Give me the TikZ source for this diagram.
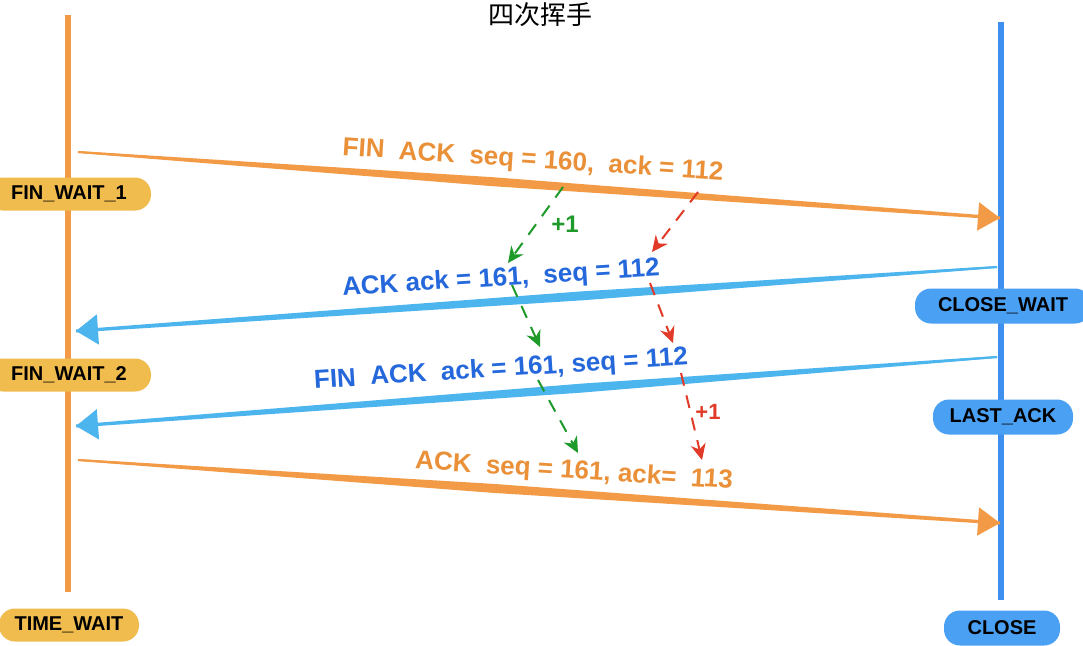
\documentclass[tikz,border=0pt]{standalone}
\usepackage{fontspec}
\setmainfont{Liberation Sans}
\newfontfamily\cjk{Noto Sans CJK SC}
\usetikzlibrary{arrows.meta,calc}
\definecolor{oline}{HTML}{F29A45}
\definecolor{otext}{HTML}{EA9038}
\definecolor{bline}{HTML}{3F8FEF}
\definecolor{lblue}{HTML}{4DB5EE}
\definecolor{btext}{HTML}{2468DC}
\definecolor{ypill}{HTML}{F0BC4E}
\definecolor{bpill}{HTML}{4AA0F3}
\definecolor{gdash}{HTML}{1E9A2A}
\definecolor{rdash}{HTML}{E23A28}
\newcommand\brushstroke[4]{%
  \fill[#4] ($(#1)+(0,1)$) -- ($(#1)!.45!(#2)+(0,#3)$) -- ($(#2)+(0,1.5)$) --
    ($(#2)+(0,-1.5)$) -- ($(#1)!.45!(#2)+(0,-#3)$) -- ($(#1)+(0,-1)$) -- cycle;}
\begin{document}
\begin{tikzpicture}[x=1pt,y=-1pt,
  ypillst/.style={rounded corners=16pt, fill=ypill, minimum height=33pt, inner sep=0pt,
     font=\fontsize{20}{22}\selectfont\bfseries, text=black},
  bpillst/.style={rounded corners=16pt, fill=bpill, minimum height=35pt, inner sep=0pt,
     font=\fontsize{20}{22}\selectfont\bfseries, text=black},
  msgo/.style={text=otext, font=\fontsize{26}{30}\selectfont\bfseries, inner sep=0pt},
  msgb/.style={text=btext, font=\fontsize{26}{30}\selectfont\bfseries, inner sep=0pt},
  oarrow/.style={draw=oline, line width=2pt, -{Triangle[length=22pt,width=28pt,fill=oline]}},
  barrow/.style={draw=lblue, line width=2pt, -{Triangle[length=22pt,width=30pt,fill=lblue]}},
  gd/.style={draw=gdash, line width=2pt, dash pattern=on 13pt off 10pt, -{Stealth[length=16pt,width=15pt]}},
  rd/.style={draw=rdash, line width=2pt, dash pattern=on 13pt off 10pt, -{Stealth[length=16pt,width=15pt]}},
  plusone/.style={font=\fontsize{24}{26}\selectfont\bfseries, inner sep=0pt}]
\useasboundingbox (0,0) rectangle (1083,645);
\fill[white] (0,0) rectangle (1083,645);
% title
\node[font=\cjk\fontsize{26}{30}\selectfont, inner sep=0pt] (title) at (540,15) {四次挥手};
% lifelines
\coordinate (ltop) at (68,15);
\coordinate (lbot) at (68,592);
\coordinate (rtop) at (1001,22);
\coordinate (rbot) at (1001,600);
\draw[oline, line width=6pt] (ltop) -- (lbot);
\draw[bline, line width=6pt] (rtop) -- (rbot);
% message endpoints
\coordinate (m1s) at (78,152);  \coordinate (m1e) at (1000,218);
\coordinate (m2s) at (997,267); \coordinate (m2e) at (76,331);
\coordinate (m3s) at (997,357); \coordinate (m3e) at (76,426);
\coordinate (m4s) at (78,460);  \coordinate (m4e) at (1000,523);
\brushstroke{m1s}{m1e}{4.5}{oline}
\brushstroke{m2s}{m2e}{4.5}{lblue}
\brushstroke{m3s}{m3e}{4.5}{lblue}
\brushstroke{m4s}{m4e}{4.5}{oline}
\draw[oarrow] (m1s) -- (m1e);
\draw[barrow] (m2s) -- (m2e);
\draw[barrow] (m3s) -- (m3e);
\draw[oarrow] (m4s) -- (m4e);
% message labels
\node[msgo, rotate=-3.7] (t1) at (533,161) {FIN~ ACK~ seq = 160,~ ack = 112};
\node[msgb, rotate=3.6] (t2) at (501,279) {ACK ack = 161,~ seq = 112};
\node[msgb, rotate=3.6] (t3) at (501,370) {FIN~ ACK~ ack = 161, seq = 112};
\node[msgo, rotate=-3.6] (t4) at (574,472) {ACK~ seq = 161, ack=~ 113};
% dashed arrows
\coordinate (g1s) at (563,187); \coordinate (g1e) at (508,263);
\coordinate (g2s) at (512,285); \coordinate (g2e) at (540,347);
\coordinate (g3s) at (538,380); \coordinate (g3e) at (578,453);
\coordinate (r1s) at (698,192); \coordinate (r1e) at (652,252);
\coordinate (r2s) at (650,283); \coordinate (r2e) at (673,343);
\coordinate (r3s) at (681,373); \coordinate (r3e) at (702,460);
\draw[gd] (g1s) -- (g1e);
\draw[gd] (g2s) -- (g2e);
\draw[gd] (g3s) -- (g3e);
\draw[rd] (r1s) -- (r1e);
\draw[rd] (r2s) -- (r2e);
\draw[rd] (r3s) -- (r3e);
\node[plusone, text=gdash] (gp) at (565,224) {+1};
\node[plusone, text=rdash, font=\fontsize{22}{24}\selectfont\bfseries] (rp) at (708,412) {+1};
% states
\node[ypillst, minimum width=164pt] (fw1) at (69,194) {FIN\_WAIT\_1};
\node[ypillst, minimum width=164pt] (fw2) at (69,375) {FIN\_WAIT\_2};
\node[ypillst, minimum width=140pt] (tw) at (69,625) {TIME\_WAIT};
\node[bpillst, minimum width=176pt] (cw) at (1003,306) {CLOSE\_WAIT};
\node[bpillst, minimum width=140pt] (la) at (1003,417) {LAST\_ACK};
\node[bpillst, minimum width=116pt] (cl) at (1002,628) {CLOSE};
\end{tikzpicture}
\end{document}
